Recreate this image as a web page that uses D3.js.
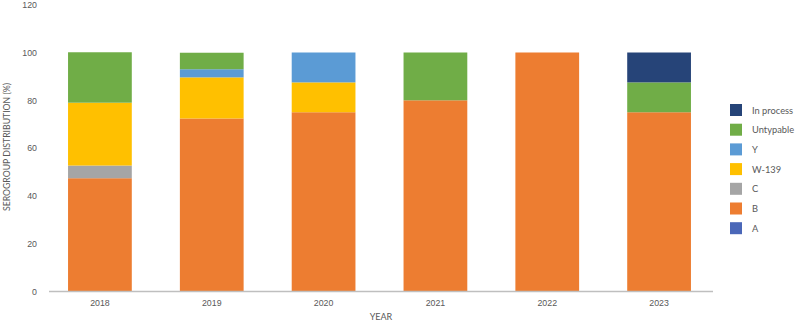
<!DOCTYPE html>
<html><head><meta charset="utf-8">
<script src="https://cdn.jsdelivr.net/npm/d3@7"></script>
<style>body{margin:0;background:#fff;} svg{display:block;font-family:"Lato","DejaVu Sans",sans-serif;}</style>
</head><body><svg id="c" width="800" height="336"></svg>
<script>
const years = ["2018","2019","2020","2021","2022","2023"];
const serogroups = ["A","B","C","W-139","Y","Untypable","In process"];
const colors = ["#4A67B8","#ED7D31","#A5A5A5","#FFC000","#5B9BD5","#70AD47","#264478"];
const valA = [0,0,0,0,0,0];
const valB = [47.4,72.4,75,80,100,75];
const valC = [5.3,0,0,0,0,0];
const valW = [26.3,17.2,12.5,0,0,0];
const valY = [0,3.4,12.5,0,0,0];
const valU = [21.1,6.9,0,20,0,12.5];
const valP = [0,0,0,0,0,12.5];
const yTicks = [0,20,40,60,80,100,120];

const seriesVals = [valA,valB,valC,valW,valY,valU,valP];
const rows = years.map((y,i)=>{const r={year:y}; serogroups.forEach((s,j)=>r[s]=seriesVals[j][i]); return r;});
const stacked = d3.stack().keys(serogroups)(rows);

const svg = d3.select("#c");
const x = d3.scaleBand().domain(years).range([44,715]).paddingInner(0.43).paddingOuter(0.215);
const y = d3.scaleLinear().domain([0,120]).range([291.5,4.7]);
const color = d3.scaleOrdinal().domain(serogroups).range(colors);

svg.append("g").selectAll("g").data(stacked).join("g").attr("fill",d=>color(d.key))
  .selectAll("rect").data(d=>d).join("rect")
  .attr("x",d=>x(d.data.year)).attr("width",x.bandwidth())
  .attr("y",d=>y(d[1])).attr("height",d=>Math.max(0,y(d[0])-y(d[1])));

const yAxis = svg.append("g").attr("transform","translate(49,0)")
  .call(d3.axisLeft(y).tickValues(yTicks).tickSize(0).tickPadding(12));
yAxis.select(".domain").remove();
yAxis.selectAll("text").attr("fill","#595959").style("font-size","8.8px");

const xAxis = svg.append("g").attr("transform","translate(0,291.5)")
  .call(d3.axisBottom(x).tickSize(0).tickPadding(8));
xAxis.select(".domain").attr("stroke","#BFBFBF").attr("stroke-width",1.5).attr("d","M49,0H713");
xAxis.selectAll("text").attr("fill","#595959").style("font-size","8.8px");

svg.append("text").attr("x",381).attr("y",320).attr("text-anchor","middle")
  .attr("fill","#595959").style("font-size","9px").text("YEAR");
svg.append("text").attr("transform","translate(10,147) rotate(-90)").attr("text-anchor","middle")
  .attr("fill","#595959").style("font-size","8.7px").text("SEROGROUP DISTRIBUTION (%)");

const legendOrder = serogroups.slice().reverse();
const lg = svg.append("g").selectAll("g").data(legendOrder).join("g")
  .attr("transform",(d,i)=>`translate(730,${104+i*19.7})`);
lg.append("rect").attr("width",12).attr("height",12).attr("fill",d=>color(d));
lg.append("text").attr("x",22).attr("y",9.5).attr("fill","#595959").style("font-size","9.3px").text(d=>d);
</script></body></html>
